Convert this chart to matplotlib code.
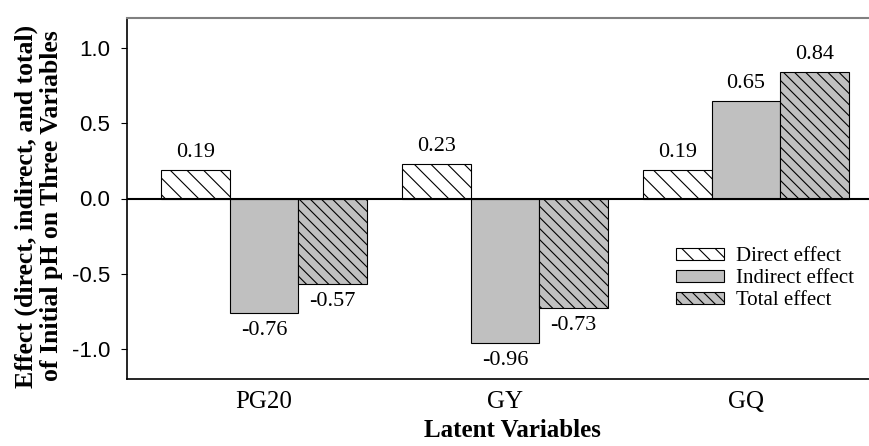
import matplotlib.pyplot as plt
import numpy as np

categories = ['PG20', 'GY', 'GQ']
direct = [0.19, 0.23, 0.19]
indirect = [-0.76, -0.96, 0.65]
total = [-0.57, -0.73, 0.84]
series_names = ['Direct effect', 'Indirect effect', 'Total effect']

serif = 'Liberation Serif'
sans = 'Liberation Sans'
plt.rcParams['hatch.linewidth'] = 0.8

fig = plt.figure(figsize=(8.7, 4.46), dpi=100)
ax = fig.add_axes([127 / 870, 67 / 446, 743 / 870, 361 / 446])

x = np.arange(len(categories))
w = 0.284
gray = '#c0c0c0'
styles = [('white', '\\\\'), (gray, None), (gray, '\\\\\\')]
for i, (vals, name, (fc, hatch)) in enumerate(zip([direct, indirect, total], series_names, styles)):
    bars = ax.bar(x + (i - 1) * w, vals, w, color=fc, edgecolor='black',
                  linewidth=0.8, hatch=hatch, label=name)
    for b, v in zip(bars, vals):
        off = 12.5 if v >= 0 else -12.5
        ax.annotate('%.2f' % v, (b.get_x() + b.get_width() / 2, v),
                    xytext=(0, off), textcoords='offset points',
                    ha='center', va='center', fontsize=16, family=serif)

ax.axhline(0, color='black', linewidth=1.5)
ax.set_xlim(-0.568, 2.515)
ax.set_ylim(-1.2, 1.2)
ax.set_yticks([-1.0, -0.5, 0.0, 0.5, 1.0])
ax.set_yticklabels(['-1.0', '-0.5', '0.0', '0.5', '1.0'], family=sans, fontsize=16)
ax.set_xticks(x)
ax.set_xticklabels(categories, family=serif, fontsize=18)
ax.tick_params(axis='x', length=0, pad=9)
ax.tick_params(axis='y', length=4, width=0.8, direction='out', pad=8)

ax.spines['right'].set_visible(False)
ax.spines['top'].set_color('#808080')
ax.spines['top'].set_linewidth(1.5)
ax.spines['left'].set_linewidth(1.2)
ax.spines['bottom'].set_linewidth(1.2)

fig.text(512 / 870, 4 / 446, 'Latent Variables', family=serif, fontsize=18,
         fontweight='bold', ha='center', va='bottom')
fig.text(38.5 / 870, 1 - 206 / 446,
         'Effect (direct, indirect, and total)\nof Initial pH on Three Variables',
         family=serif, fontsize=18.5, fontweight='bold', rotation=90,
         ha='center', va='center', linespacing=1.1, multialignment='center')

ax.legend(loc='upper left', bbox_to_anchor=((676 - 127) / 743, (379 - 247) / 361),
          frameon=False, borderpad=0, borderaxespad=0,
          prop={'family': serif, 'size': 15}, handlelength=2.3, handleheight=0.5,
          labelspacing=0.15, handletextpad=0.58)

fig.savefig('out.png', dpi=100)
